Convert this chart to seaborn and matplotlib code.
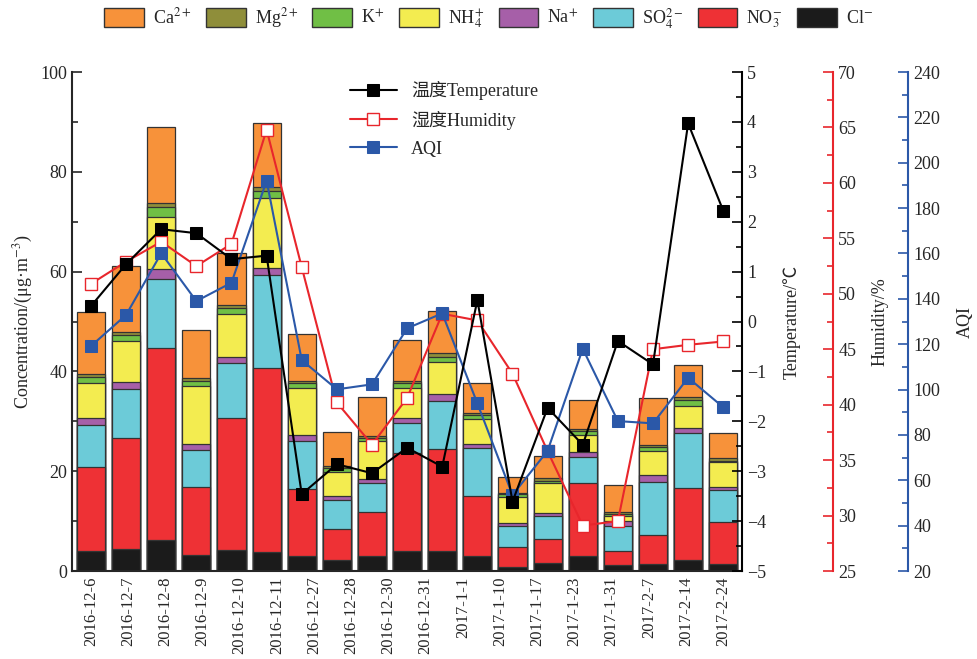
import numpy as np
import matplotlib
matplotlib.use("Agg")
import matplotlib.pyplot as plt
import matplotlib.patches as mpatches
from matplotlib.ticker import MultipleLocator
import seaborn as sns

# sampling dates (19 samples, the figure only prints 18 labels spread evenly)
dates = ["2016-12-6", "2016-12-7", "2016-12-8", "2016-12-9", "2016-12-10", "2016-12-11",
         "2016-12-27", "2016-12-28", "2016-12-30", "2016-12-31", "2017-1-1", "2017-1-10",
         "2017-1-17", "2017-1-23", "2017-1-31", "2017-2-7", "2017-2-14", "2017-2-24"]
n_samples = 19

# ion concentrations (ug/m3), bottom to top of each stack
cl = [4.0, 4.4, 6.3, 3.2, 4.2, 3.9, 3.0, 2.2, 3.0, 4.0, 4.0, 3.0, 0.9, 1.7, 3.0, 1.2, 1.5, 2.3, 1.4]
no3 = [16.8, 22.3, 38.3, 13.6, 26.5, 36.7, 13.4, 6.3, 8.9, 19.7, 20.4, 12.0, 4.0, 4.8, 14.6, 2.8, 5.7, 14.3, 8.5]
so4 = [8.5, 9.7, 13.9, 7.4, 10.9, 18.7, 9.7, 5.7, 5.7, 6.0, 9.7, 9.6, 4.1, 4.5, 5.3, 5.0, 10.7, 11.1, 6.3]
na = [1.3, 1.5, 2.0, 1.2, 1.3, 1.4, 1.2, 0.8, 0.8, 1.0, 1.3, 0.8, 0.6, 0.7, 1.0, 1.1, 1.3, 0.9, 0.6]
nh4 = [7.1, 8.2, 10.4, 11.7, 8.6, 14.0, 9.4, 4.8, 7.7, 5.9, 6.5, 5.0, 5.3, 5.9, 3.4, 0.9, 4.9, 4.5, 5.1]
k = [1.1, 1.2, 2.0, 1.0, 1.3, 1.5, 0.9, 0.8, 0.6, 1.0, 1.0, 0.9, 0.5, 0.5, 0.8, 0.4, 0.7, 1.2, 0.2]
mg = [0.7, 0.7, 0.8, 0.5, 0.5, 0.8, 0.5, 0.4, 0.4, 0.5, 0.7, 0.4, 0.3, 0.5, 0.4, 0.5, 0.5, 0.5, 0.5]
ca = [12.5, 13.2, 15.2, 9.7, 10.5, 12.8, 9.5, 6.8, 7.7, 8.2, 8.5, 5.9, 3.2, 4.4, 5.8, 5.3, 9.3, 6.5, 5.0]

# meteorology and AQI
temperature = [0.31, 1.15, 1.85, 1.77, 1.25, 1.32, -3.46, -2.86, -3.04, -2.53, -2.91, 0.43,
               -3.61, -1.73, -2.47, -0.39, -0.86, 3.97, 2.22]
humidity = [50.9, 52.9, 54.7, 52.5, 54.5, 64.8, 52.4, 40.2, 36.4, 40.6, 48.2, 47.6,
            42.8, 35.8, 29.1, 29.5, 45.0, 45.4, 45.7]
aqi = [119.2, 132.9, 160.1, 139.0, 147.1, 192.1, 113.0, 100.1, 102.3, 127.0, 133.6, 93.9,
       53.5, 73.0, 118.0, 86.1, 85.1, 105.2, 92.2]

ion_labels = ["Cl$^{-}$", "NO$_3^{-}$", "SO$_4^{2-}$", "Na$^{+}$", "NH$_4^{+}$", "K$^{+}$", "Mg$^{2+}$", "Ca$^{2+}$"]
ion_colors = ["#1b1b1b", "#ee3135", "#6ccbd8", "#a65fa8", "#f3ec50", "#70bf45", "#8f8e3a", "#f7923a"]
ions = [cl, no3, so4, na, nh4, k, mg, ca]

sns.set_style("ticks")
plt.rcParams['font.family'] = ['Liberation Serif', 'Noto Sans CJK SC', 'DejaVu Serif']
plt.rcParams['mathtext.fontset'] = 'stix'

fig = plt.figure(figsize=(9.77, 6.59), dpi=100)
ax = fig.add_axes([0.0737, 0.1335, 0.686, 0.7572])

pos = np.arange(n_samples)
cum = np.cumsum(np.array(ions), axis=0)
# draw the tallest (cumulative) layer first so lower layers overlay it
for i in range(len(ions) - 1, -1, -1):
    sns.barplot(x=pos, y=cum[i], color=ion_colors[i], saturation=1, width=0.8,
                edgecolor="#333333", linewidth=0.9, errorbar=None, ax=ax)

ax.set_xlim(-0.54, n_samples - 1 + 0.54)
ax.set_ylim(0, 100)
ax.yaxis.set_major_locator(MultipleLocator(20))
ax.yaxis.set_minor_locator(MultipleLocator(10))
ax.set_xticks(np.linspace(0, n_samples - 1, len(dates)))
ax.set_xticklabels(dates, rotation=90, fontsize=12)
ax.tick_params(axis='x', length=0, pad=4)
ax.tick_params(axis='y', which='major', direction='in', length=7, width=1.2, labelsize=13)
ax.tick_params(axis='y', which='minor', direction='in', length=4, width=1.2)
ax.set_ylabel("Concentration/(μg·m$^{-3}$)", fontsize=13, labelpad=4)
ax.set_xlabel("")
for s in ["top", "right"]:
    ax.spines[s].set_visible(False)
for s in ["left", "bottom"]:
    ax.spines[s].set_linewidth(1.5)

# humidity axis
red = "#e8262c"
blue = "#2b58a8"
ax_h = ax.twinx()
ax_h.spines['right'].set_position(('axes', 1.136))
sns.lineplot(x=pos, y=humidity, ax=ax_h, color=red, marker='s', markersize=9,
             markerfacecolor='white', markeredgecolor=red, markeredgewidth=1.0,
             linewidth=1.5, label="湿度Humidity")
ax_h.set_ylim(25, 70)
ax_h.yaxis.set_major_locator(MultipleLocator(5))
ax_h.yaxis.set_minor_locator(MultipleLocator(2.5))
ax_h.set_ylabel("Humidity/%", fontsize=13, labelpad=11)

# AQI axis
ax_a = ax.twinx()
ax_a.spines['right'].set_position(('axes', 1.248))
sns.lineplot(x=pos, y=aqi, ax=ax_a, color=blue, marker='s', markersize=9,
             markerfacecolor=blue, markeredgecolor=blue, linewidth=1.5, label="AQI")
ax_a.set_ylim(20, 240)
ax_a.yaxis.set_major_locator(MultipleLocator(20))
ax_a.yaxis.set_minor_locator(MultipleLocator(10))
ax_a.set_ylabel("AQI", fontsize=13, labelpad=12)

# temperature axis (on top)
ax_t = ax.twinx()
sns.lineplot(x=pos, y=temperature, ax=ax_t, color='black', marker='s', markersize=9,
             markerfacecolor='black', markeredgecolor='black', linewidth=1.5,
             label="温度Temperature")
ax_t.set_ylim(-5, 5)
ax_t.yaxis.set_major_locator(MultipleLocator(1))
ax_t.yaxis.set_minor_locator(MultipleLocator(0.5))
ax_t.set_ylabel("Temperature/℃", fontsize=13, labelpad=12)

for a, c in [(ax_t, 'black'), (ax_h, red), (ax_a, blue)]:
    for s in ["top", "left", "bottom"]:
        a.spines[s].set_visible(False)
    a.spines['right'].set_color(c)
    a.spines['right'].set_linewidth(1.5)
    a.tick_params(axis='y', which='major', direction='in', length=7, width=1.2, color=c, labelsize=13)
    a.tick_params(axis='y', which='minor', direction='in', length=4, width=1.2, color=c)
    a.set_xlabel("")
    if a.get_legend() is not None:
        a.get_legend().remove()

handles, labels = [], []
for a in [ax_t, ax_h, ax_a]:
    h, l = a.get_legend_handles_labels()
    handles += h
    labels += l
ax_t.legend(handles, labels, loc='upper left', bbox_to_anchor=(0.39, 1.015), frameon=False,
            fontsize=13, handlelength=2.6, labelspacing=0.6)

# ion legend across the top
patch_handles = [mpatches.Patch(facecolor=ion_colors[i], edgecolor="#333333", linewidth=1.0)
                 for i in range(len(ions) - 1, -1, -1)]
patch_labels = [ion_labels[i] for i in range(len(ions) - 1, -1, -1)]
fig.legend(patch_handles, patch_labels, ncol=8, loc='center', bbox_to_anchor=(0.5, 0.972),
           frameon=False, fontsize=13, handlelength=2.2, handleheight=1.3,
           columnspacing=0.8, handletextpad=0.5)

fig.savefig("out.png", dpi=100)
